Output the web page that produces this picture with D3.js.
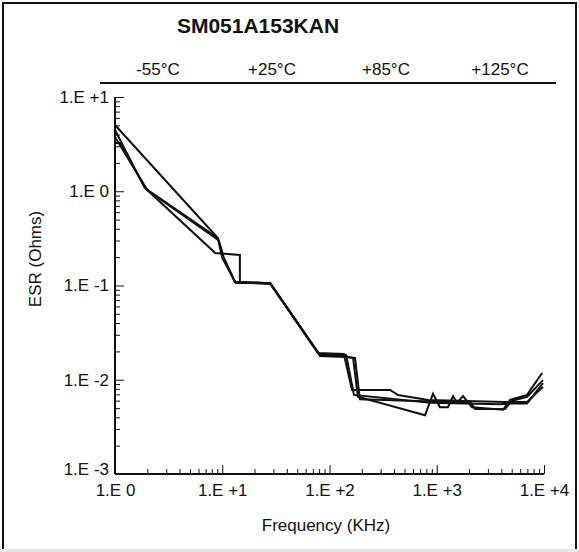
<!DOCTYPE html>
<html>
<head>
<meta charset="utf-8">
<script src="https://cdn.jsdelivr.net/npm/d3@7"></script>
<style>
  body { margin: 0; background: #fff; }
  text { font-family: "Liberation Sans", Arial, Helvetica, sans-serif; fill: #111; }
</style>
</head>
<body>
<svg width="579" height="552"></svg>
<script>
// temperature labels
const temps = ["-55°C", "+25°C", "+85°C", "+125°C"];

// ESR curves, freq in KHz, esr in Ohms
const freqM55 = [1, 9.1, 10.2, 13.1, 28, 81.5, 140, 166, 184, 777, 923, 1070, 1270, 1420, 1550, 1760, 2130, 4150, 4820, 6950, 9600];
const esrM55  = [5.05, 0.319, 0.2, 0.109, 0.106, 0.0183, 0.0179, 0.017, 0.0066, 0.0042, 0.0071, 0.0051, 0.0051, 0.0067, 0.0057, 0.0067, 0.0051, 0.0048, 0.0061, 0.0069, 0.0118];

const freqP25 = [1, 1.9, 9.1, 10, 13.4, 28, 78, 136, 162, 367, 435, 830, 4330, 6950, 9790];
const esrP25  = [4.47, 1.08, 0.319, 0.196, 0.106, 0.106, 0.0192, 0.0188, 0.0078, 0.0078, 0.0069, 0.0061, 0.0058, 0.0058, 0.0084];

const freqP85 = [1, 2, 8.6, 14.6, 14.6, 28, 81.5, 140, 173, 192, 1330, 2040, 2280, 4330, 5040, 6950, 9790];
const esrP85  = [3.77, 1.03, 0.221, 0.211, 0.109, 0.106, 0.0179, 0.0174, 0.017, 0.0062, 0.0058, 0.0058, 0.0049, 0.0049, 0.006, 0.0066, 0.0099];

const freqP125 = [1, 1.11, 1.95, 9.3, 10.3, 13.2, 28, 80, 143, 169, 865, 3890, 4820, 6950, 9790];
const esrP125  = [3.25, 3.25, 1.05, 0.3, 0.2, 0.108, 0.104, 0.0188, 0.0183, 0.0069, 0.0057, 0.0055, 0.0056, 0.0056, 0.0092];

const xTicks = [1, 10, 100, 1000, 10000];
const xTickLabels = ["1.E 0", "1.E +1", "1.E +2", "1.E +3", "1.E +4"];
const yTicks = [0.001, 0.01, 0.1, 1, 10];
const yTickLabels = ["1.E -3", "1.E -2", "1.E -1", "1.E 0", "1.E +1"];

const svg = d3.select("svg");
const width = +svg.attr("width");
const height = +svg.attr("height");
const fs = 17;

// frame
svg.append("rect")
    .attr("x", 3).attr("y", 3)
    .attr("width", width - 6).attr("height", height + 10)
    .attr("fill", "none").attr("stroke", "#111").attr("stroke-width", 2);
svg.append("rect")
    .attr("x", 0).attr("y", 549)
    .attr("width", width).attr("height", 3)
    .attr("fill", "#e6e6e6");

const pLeft = 115, pRight = 544, pTop = 97, pBottom = 474;

const x = d3.scaleLog().domain([1, 10000]).range([pLeft, pRight]);
const y = d3.scaleLog().domain([0.001, 10]).range([pBottom, pTop]);

// minor tick values
const minorX = [], minorY = [];
for (let d = 1; d < 10000; d *= 10) {
    for (let k = 2; k <= 9; k++) minorX.push(d * k);
}
for (let e = -3; e < 1; e++) {
    for (let k = 2; k <= 9; k++) minorY.push(k * Math.pow(10, e));
}

const xMinor = d3.axisBottom(x).tickValues(minorX).tickSize(-5).tickFormat("");
const xMajor = d3.axisBottom(x).tickValues(xTicks).tickSize(-9).tickPadding(10)
    .tickFormat((d, i) => xTickLabels[i]);
const yMinor = d3.axisLeft(y).tickValues(minorY).tickSize(-5).tickFormat("");
const yMajor = d3.axisLeft(y).tickValues(yTicks).tickSize(-9).tickPadding(6)
    .tickFormat((d, i) => yTickLabels[i]);

const gx1 = svg.append("g").attr("transform", "translate(0," + pBottom + ")").call(xMinor);
const gx2 = svg.append("g").attr("transform", "translate(0," + pBottom + ")").call(xMajor);
const gy1 = svg.append("g").attr("transform", "translate(" + pLeft + ",0)").call(yMinor);
const gy2 = svg.append("g").attr("transform", "translate(" + pLeft + ",0)").call(yMajor);

[gx1, gx2, gy1, gy2].forEach(function (g) {
    g.selectAll(".domain").attr("stroke", "#111").attr("stroke-width", 2);
    g.selectAll(".tick line").attr("stroke", "#111").attr("stroke-width", 1);
    g.selectAll("text").style("font-size", fs + "px")
        .style("font-family", '"Liberation Sans", Arial, sans-serif').attr("fill", "#111");
});
gx1.select(".domain").remove();
gy1.select(".domain").remove();
gx2.select(".domain").attr("d", "M" + pLeft + ",0H" + pRight);
gy2.select(".domain").attr("d", "M0," + pBottom + "V" + pTop);
// lowest y label sits a little above the axis line
gy2.selectAll(".tick text").filter(function (d) { return d === 0.001; })
    .attr("y", -5);

// curves
const series = [
    {f: freqM55, v: esrM55},
    {f: freqP25, v: esrP25},
    {f: freqP85, v: esrP85},
    {f: freqP125, v: esrP125}
];
const line = d3.line()
    .x(function (d) { return x(d[0]); })
    .y(function (d) { return y(d[1]); });

svg.append("g").selectAll("path")
    .data(series)
    .enter()
    .append("path")
    .attr("fill", "none")
    .attr("stroke", "#111")
    .attr("stroke-width", 2)
    .attr("stroke-linejoin", "miter")
    .attr("d", function (s) {
        return line(s.f.map(function (f, i) { return [f, s.v[i]]; }));
    });

// title
svg.append("text")
    .attr("x", 258).attr("y", 33)
    .attr("text-anchor", "middle")
    .style("font-size", "21px").style("font-weight", "bold")
    .text("SM051A153KAN");

// temperature legend
const tx = d3.scalePoint().domain(temps).range([158, 500]);
svg.append("g").selectAll("text")
    .data(temps)
    .enter()
    .append("text")
    .attr("x", function (d) { return tx(d); })
    .attr("y", 75)
    .attr("text-anchor", "middle")
    .style("font-size", fs + "px")
    .text(function (d) { return d; });
svg.append("line")
    .attr("x1", 100).attr("x2", 556)
    .attr("y1", 83).attr("y2", 83)
    .attr("stroke", "#111").attr("stroke-width", 2);

// axis titles
svg.append("text")
    .attr("transform", "translate(41,259) rotate(-90)")
    .attr("text-anchor", "middle")
    .style("font-size", fs + "px")
    .text("ESR (Ohms)");
svg.append("text")
    .attr("x", 326).attr("y", 531)
    .attr("text-anchor", "middle")
    .style("font-size", fs + "px")
    .text("Frequency (KHz)");
</script>
</body>
</html>
